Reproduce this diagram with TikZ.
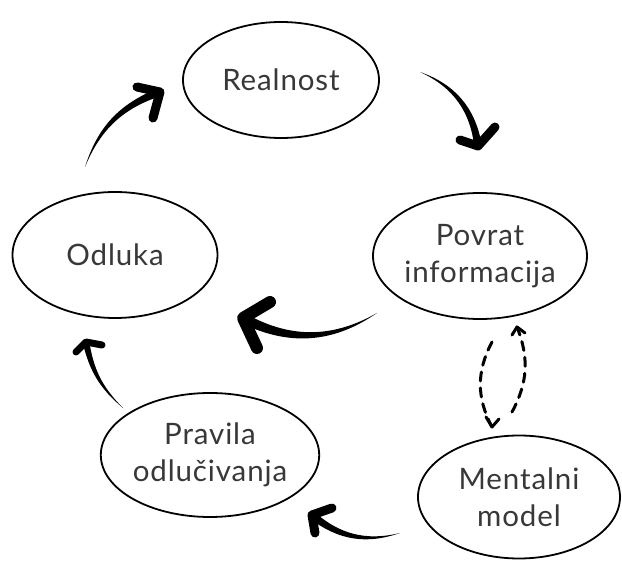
\documentclass[tikz,border=0pt]{standalone}
\usepackage{fontspec}
\setmainfont{Lato}
\usetikzlibrary{calc,shapes.geometric}
\newcommand\brusharrow[6]{%
  \fill (#1) to[bend left=#6] ($(#2)!#5!90:(#1)$) -- ($(#2)!#5!-90:(#1)$) to[bend right=#6] (#1);
  \draw[line width=2*#5, line cap=round, line join=round] (#3) -- (#2) -- (#4);
}
\begin{document}
\begin{tikzpicture}[x=1pt,y=-1pt,
  bubble/.style={draw=black, line width=1.8pt, ellipse, inner sep=0pt, align=center,
    font=\fontsize{29.5}{37}\selectfont, text=black!78},
  dashline/.style={line width=3pt, dash pattern=on 9pt off 7pt, line cap=round},
  dashhead/.style={line width=3pt, line cap=round, line join=round}]
\useasboundingbox (0,0) rectangle (622,561);
\node[bubble, minimum width=196pt, minimum height=116pt] (real) at (281,80) {\addfontfeature{LetterSpace=3}Realnost};
\node[bubble, minimum width=210pt, minimum height=126pt] (povrat) at (480,256) {\addfontfeature{LetterSpace=3}Povrat\\\addfontfeature{LetterSpace=3}informacija};
\node[bubble, minimum width=205pt, minimum height=126pt] (odluka) at (115,255) {\addfontfeature{LetterSpace=3}Odluka};
\node[bubble, minimum width=206pt, minimum height=124pt] (pravila) at (210,455) {\addfontfeature{LetterSpace=3}Pravila\\\addfontfeature{LetterSpace=3}odlučivanja};
\node[bubble, minimum width=202pt, minimum height=123pt] (mental) at (519,497) {\addfontfeature{LetterSpace=3}Mentalni\\\addfontfeature{LetterSpace=3}model};
% brush arrows
\coordinate (t1) at (85,167);  \coordinate (p1) at (160,92);  \coordinate (a1) at (137,87);  \coordinate (b1) at (153,118);
\coordinate (t2) at (420,72);  \coordinate (p2) at (478,146); \coordinate (a2) at (460,140); \coordinate (b2) at (495,127);
\coordinate (t3) at (377,313); \coordinate (p3) at (243,318); \coordinate (a3) at (270,302); \coordinate (b3) at (257,348);
\coordinate (t4) at (123,408); \coordinate (p4) at (86,342);  \coordinate (a4) at (76,352);  \coordinate (b4) at (102,345);
\coordinate (t5) at (400,533); \coordinate (p5) at (312,515); \coordinate (a5) at (332,508); \coordinate (b5) at (315,533);
\brusharrow{t1}{p1}{a1}{b1}{4.5pt}{25}
\brusharrow{t2}{p2}{a2}{b2}{4.5pt}{30}
\brusharrow{t3}{p3}{a3}{b3}{6pt}{30}
\brusharrow{t4}{p4}{a4}{b4}{3.5pt}{18}
\brusharrow{t5}{p5}{a5}{b5}{4.5pt}{28}
% dashed loop
\coordinate (d1s) at (492,342); \coordinate (d1e) at (492,427);
\coordinate (d2s) at (512,412); \coordinate (d2e) at (517,327);
\draw[dashline] (d1s) to[bend right=28] (d1e);
\draw[dashhead] (486,417) -- (d1e) -- (499,419);
\draw[dashline] (d2s) to[bend right=25] (d2e);
\draw[dashhead] (512,335) -- (d2e) -- (525,333);
\end{tikzpicture}
\end{document}
